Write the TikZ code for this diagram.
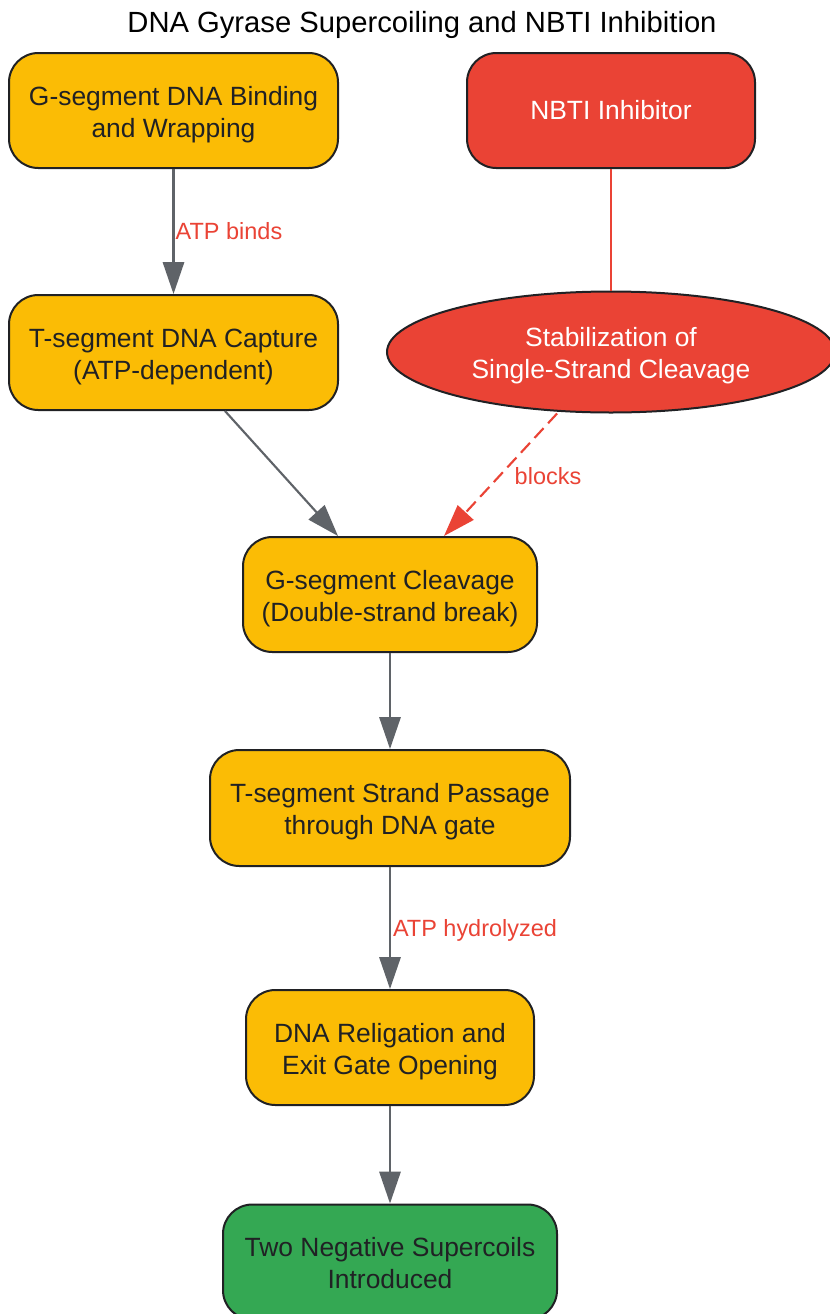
\documentclass[tikz,border=0pt]{standalone}
\usepackage{fontspec}
\setmainfont{Liberation Sans}
\usetikzlibrary{shapes.geometric,arrows.meta,calc}
\definecolor{gyellow}{HTML}{FBBC05}
\definecolor{gred}{HTML}{EA4335}
\definecolor{ggreen}{HTML}{34A853}
\definecolor{ggray}{HTML}{5F6368}
\definecolor{gdark}{HTML}{202124}
\newcommand\twol[2]{\raisebox{-3.1pt}[\height][\depth]{\begin{tabular}{@{}c@{}}#1\\#2\end{tabular}}}
\tikzset{
  box/.style={draw=gdark, line width=1.5pt, rounded corners=22pt, align=center,
    minimum height=86.25pt, inner sep=0pt, text=gdark,
    font=\fontsize{19.8}{24}\selectfont},
  ybox/.style={box, fill=gyellow},
  rbox/.style={box, fill=gred, text=white},
  gbox/.style={box, fill=ggreen},
  oval/.style={ellipse, draw=gdark, line width=1.5pt, fill=gred, text=white, align=center,
    inner sep=0pt, font=\fontsize{19.8}{24}\selectfont},
  flow/.style={draw=ggray, line width=1.6pt, -{Triangle[length=24pt,width=16pt]}},
  lbl/.style={text=gred, font=\fontsize{17.6}{21}\selectfont, inner sep=0pt},
}
\begin{document}
\begin{tikzpicture}[x=0.75pt,y=-0.75pt]
\useasboundingbox (0,0) rectangle (830,1314);
\clip (0,0) rectangle (830,1314);
\fill[white] (0,0) rectangle (830,1314);
\node[font=\fontsize{21.9}{26}\selectfont, text=black] (title) at (422,25) {DNA Gyrase Supercoiling and NBTI Inhibition};
\node[ybox, minimum width=246.75pt] (A) at (173.5,110.5) {\twol{G-segment DNA Binding}{and Wrapping}};
\node[rbox, minimum width=216pt] (N) at (611,110.5) {NBTI Inhibitor};
\node[ybox, minimum width=246.75pt] (B) at (173.5,352.5) {\twol{T-segment DNA Capture}{(ATP-dependent)}};
\node[oval, minimum width=336pt, minimum height=90.75pt] (S) at (611,352) {\twol{Stabilization of}{Single-Strand Cleavage}};
\node[ybox, minimum width=220.5pt] (C) at (390,594.5) {\twol{G-segment Cleavage}{(Double-strand break)}};
\node[ybox, minimum width=270pt, minimum height=87pt] (D) at (390,808) {\twol{T-segment Strand Passage}{through DNA gate}};
\node[ybox, minimum width=216pt] (E) at (390,1047.5) {\twol{DNA Religation and}{Exit Gate Opening}};
\node[gbox, minimum width=250.5pt] (F) at (390,1262) {\twol{Two Negative Supercoils}{Introduced}};

\draw[flow] (A.south) -- (B.north);
\node[lbl] (l1) at (229,231) {ATP binds};
\draw[gred, line width=1.6pt] (N.south) -- (S.north);
\draw[flow] ($(B.south)+(51.5,0)$) -- ($(C.north)+(-52,0)$);
\draw[draw=gred, line width=1.6pt, dash pattern=on 10pt off 5pt, -{Triangle[length=24pt,width=16pt]}, shorten <=1pt] ($(S.south)+(-53,-1)$) -- ($(C.north)+(54,0)$);
\node[lbl] (l2) at (548,476) {blocks};
\draw[flow] (C.south) -- (D.north);
\draw[flow] (D.south) -- (E.north);
\node[lbl] (l3) at (475,930) {ATP hydrolyzed};
\draw[flow] (E.south) -- (F.north);
\end{tikzpicture}
\end{document}
